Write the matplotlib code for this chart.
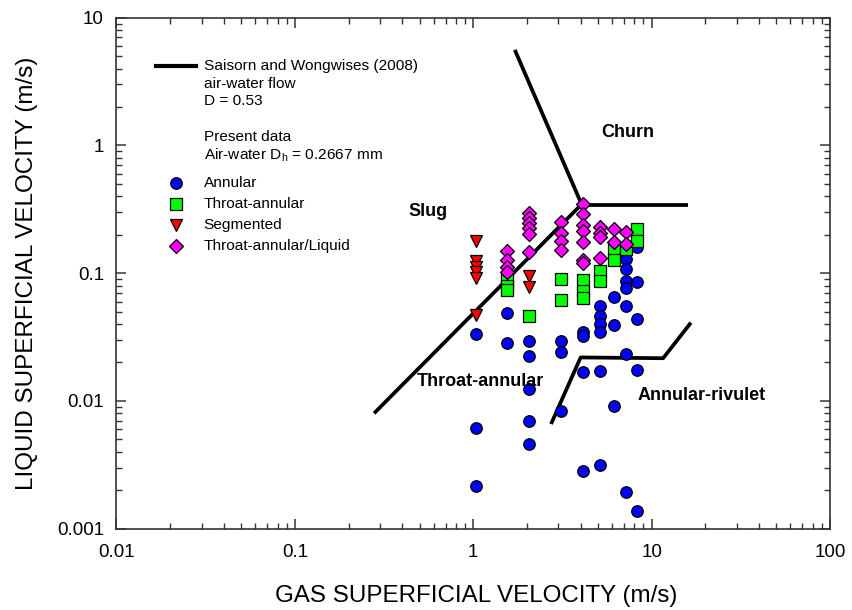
import matplotlib.pyplot as plt
from matplotlib.ticker import LogLocator, FixedLocator, FixedFormatter, NullFormatter

plt.rcParams['font.family'] = ['Liberation Sans', 'DejaVu Sans']
plt.rcParams['mathtext.fontset'] = 'custom'
plt.rcParams['mathtext.rm'] = 'Liberation Sans'

# gas / liquid superficial velocities (m/s) for each observed pattern
annular_jg = [1.03, 1.03, 1.03,
              1.545, 1.545,
              2.06, 2.06, 2.06, 2.06, 2.06,
              3.09, 3.09, 3.09,
              4.12, 4.12, 4.12, 4.12,
              5.15, 5.15, 5.15, 5.15, 5.15, 5.15,
              6.18, 6.18, 6.18,
              7.21, 7.21, 7.21, 7.21, 7.21, 7.21, 7.21, 7.21,
              8.24, 8.24, 8.24, 8.24, 8.24]
annular_jl = [0.0334, 0.0061, 0.00215,
              0.049, 0.0282,
              0.0296, 0.0225, 0.0124, 0.0070, 0.0046,
              0.0296, 0.0243, 0.0084,
              0.0348, 0.0324, 0.0169, 0.00282,
              0.055, 0.0464, 0.040, 0.0346, 0.017, 0.00313,
              0.065, 0.039, 0.0092,
              0.150, 0.129, 0.107, 0.087, 0.076, 0.055, 0.0233, 0.00194,
              0.160, 0.0855, 0.044, 0.0175, 0.00137]

throat_jg = [1.545, 1.545, 1.545, 2.06, 3.09, 3.09, 4.12, 4.12, 4.12,
             5.15, 5.15, 6.18, 6.18, 7.21, 8.24, 8.24]
throat_jl = [0.088, 0.080, 0.074, 0.046, 0.090, 0.062, 0.088, 0.072, 0.064,
             0.104, 0.087, 0.154, 0.126, 0.155, 0.220, 0.180]

segmented_jg = [1.03, 1.03, 1.03, 1.03, 1.03, 1.03, 2.06, 2.06]
segmented_jl = [0.179, 0.125, 0.112, 0.102, 0.091, 0.047, 0.095, 0.078]

liquid_jg = [1.545, 1.545, 1.545, 1.545,
             2.06, 2.06, 2.06, 2.06, 2.06, 2.06,
             3.09, 3.09, 3.09, 3.09,
             4.12, 4.12, 4.12, 4.12, 4.12, 4.12, 4.12,
             5.15, 5.15, 5.15, 5.15,
             6.18, 6.18,
             7.21, 7.21]
liquid_jl = [0.148, 0.126, 0.112, 0.103,
             0.298, 0.272, 0.248, 0.226, 0.201, 0.146,
             0.251, 0.208, 0.179, 0.151,
             0.347, 0.293, 0.240, 0.213, 0.175, 0.126, 0.120,
             0.229, 0.207, 0.191, 0.132,
             0.221, 0.175,
             0.210, 0.168]

# Saisorn and Wongwises (2008) transition lines
slug_line_jg = [0.278, 4.05]
slug_line_jl = [0.008, 0.346]
churn_line_jg = [1.71, 4.05]
churn_line_jl = [5.6, 0.346]
top_line_jg = [4.05, 16.0]
top_line_jl = [0.34, 0.34]
rivulet_line_jg = [2.73, 4.0, 11.6, 16.6]
rivulet_line_jl = [0.0066, 0.0219, 0.0216, 0.041]

regions = ['Churn', 'Slug', 'Throat-annular', 'Annular-rivulet']
region_jg = [7.37, 0.557, 1.10, 19.1]
region_jl = [1.26, 0.305, 0.0143, 0.011]

fig = plt.figure(figsize=(8.52, 6.10), dpi=100)
ax = fig.add_axes([0.1367, 0.1333, 0.8375, 0.8377])

for xs, ys in [(slug_line_jg, slug_line_jl), (churn_line_jg, churn_line_jl),
               (top_line_jg, top_line_jl), (rivulet_line_jg, rivulet_line_jl)]:
    ax.plot(xs, ys, color='black', lw=2.7, solid_capstyle='butt', zorder=2)

mk = dict(linestyle='none', markeredgecolor='black', markeredgewidth=0.9, zorder=3)
ax.plot(annular_jg, annular_jl, marker='o', markersize=8.3, markerfacecolor='#0000ff', **mk)
ax.plot(throat_jg, throat_jl, marker='s', markersize=8, markerfacecolor='#00ff00', **mk)
ax.plot(segmented_jg, segmented_jl, marker='v', markersize=9, markerfacecolor='#ff0000', **mk)
ax.plot(liquid_jg, liquid_jl, marker='D', markersize=7.5, markerfacecolor='#ff00ff', **mk)

for name, x, y in zip(regions, region_jg, region_jl):
    ax.text(x, y, name, fontsize=13, fontweight='bold', ha='center', va='center', zorder=4)

ax.set_xscale('log')
ax.set_yscale('log')
ax.set_xlim(0.01, 100)
ax.set_ylim(0.001, 10)

ax.xaxis.set_major_locator(FixedLocator([0.01, 0.1, 1, 10, 100]))
ax.xaxis.set_major_formatter(FixedFormatter(['0.01', '0.1', '1', '10', '100']))
ax.yaxis.set_major_locator(FixedLocator([0.001, 0.01, 0.1, 1, 10]))
ax.yaxis.set_major_formatter(FixedFormatter(['0.001', '0.01', '0.1', '1', '10']))
for axis in (ax.xaxis, ax.yaxis):
    axis.set_minor_locator(LogLocator(base=10, subs=range(2, 10), numticks=20))
    axis.set_minor_formatter(NullFormatter())

ax.tick_params(which='both', direction='in', top=True, right=True, colors='#333333',
               labelcolor='black', labelsize=13.5)
ax.tick_params(which='major', length=7, width=1.1, pad=9)
ax.tick_params(axis='x', which='major', pad=11)
ax.tick_params(which='minor', length=4, width=1.0)
for sp in ax.spines.values():
    sp.set_color('#333333')
    sp.set_linewidth(1.2)

ax.set_xlabel('GAS SUPERFICIAL VELOCITY (m/s)', fontsize=17.4, va='center')
ax.set_ylabel('LIQUID SUPERFICIAL VELOCITY (m/s)', fontsize=17.5, va='center')
ax.xaxis.set_label_coords(0.504, -0.132)
ax.yaxis.set_label_coords(-0.125, 0.5)

# hand-built legend in axes coordinates
tx = 0.122
ax.plot([0.055, 0.112], [0.906, 0.906], color='black', lw=3, transform=ax.transAxes)
legend_lines = [('Saisorn and Wongwises (2008)', 0.906), ('air-water flow', 0.871),
                ('D = 0.53', 0.836), ('Present data', 0.766),
                ('Air-water D$_\\mathregular{h}$ = 0.2667 mm', 0.731)]
for txt, y in legend_lines:
    ax.text(tx, y, txt, fontsize=11.1, ha='left', va='center', transform=ax.transAxes)

entries = [('Annular', 'o', '#0000ff', 8.3, 0.677), ('Throat-annular', 's', '#00ff00', 8, 0.636),
           ('Segmented', 'v', '#ff0000', 9, 0.595), ('Throat-annular/Liquid', 'D', '#ff00ff', 7.5, 0.553)]
for label, m, c, ms, y in entries:
    ax.plot([0.083], [y], marker=m, markersize=ms, markerfacecolor=c,
            transform=ax.transAxes, **mk)
    ax.text(tx, y, label, fontsize=11.1, ha='left', va='center', transform=ax.transAxes)

fig.savefig('out.png', dpi=100)
